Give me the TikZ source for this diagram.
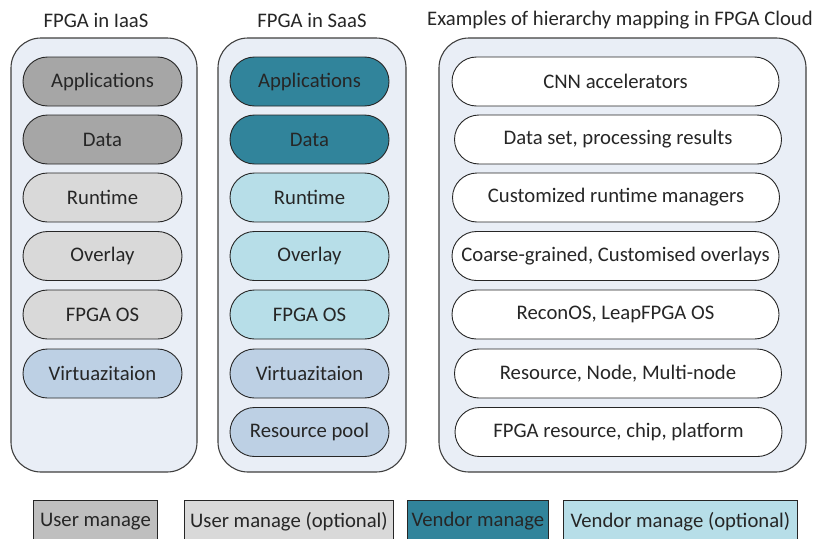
\documentclass[tikz,border=0pt]{standalone}
\usepackage{fontspec}
\setmainfont{Carlito}
\definecolor{contfill}{HTML}{E9EEF6}
\definecolor{contline}{HTML}{3F3F3F}
\definecolor{ugray}{HTML}{A6A6A6}
\definecolor{ugraylg}{HTML}{BFBFBF}
\definecolor{lgray}{HTML}{D9D9D9}
\definecolor{teal}{HTML}{31849B}
\definecolor{lblue}{HTML}{B7DEE8}
\definecolor{vblue}{HTML}{BDD0E4}
\definecolor{txt}{HTML}{262626}
\begin{document}
\begin{tikzpicture}[x=1pt,y=-1pt,
  every node/.style={font=\fontsize{20.7}{24}\selectfont, text=txt},
  container/.style={draw=contline, line width=1.1pt, fill=contfill, rounded corners=30pt},
  pill/.style={draw=black!85, line width=0.9pt, rounded corners=24.5pt, minimum height=49pt, inner sep=0pt},
  pillA/.style={pill, minimum width=159pt},
  pillB/.style={pill, minimum width=327pt, fill=white},
  legend/.style={draw=black!85, line width=0.9pt, minimum height=42pt, inner sep=0pt, anchor=north west}]
\useasboundingbox (0,0) rectangle (813,538);
% titles
\node (t1) at (96,20) {FPGA in IaaS};
\node (t2) at (312,20) {FPGA in SaaS};
\node (t3) at (620,20) {Examples of hierarchy mapping in FPGA Cloud};
% containers
\draw[container] (11,38) rectangle (197,472);
\draw[container] (218,38) rectangle (406,472);
\draw[container] (439,38) rectangle (806,472);
% column 1
\node[pillA, fill=ugray] (a1) at (102.5,81.5) {Applications};
\node[pillA, fill=ugray] (a2) at (102.5,139.5) {Data};
\node[pillA, fill=lgray] (a3) at (102.5,197.5) {Runtime};
\node[pillA, fill=lgray] (a4) at (102.5,256) {Overlay};
\node[pillA, fill=lgray] (a5) at (102.5,314.5) {FPGA OS};
\node[pillA, fill=vblue] (a6) at (102.5,373.5) {Virtuazitaion};
% column 2
\node[pillA, fill=teal] (b1) at (309.5,81.5) {Applications};
\node[pillA, fill=teal] (b2) at (309.5,139.5) {Data};
\node[pillA, fill=lblue] (b3) at (309.5,197.5) {Runtime};
\node[pillA, fill=lblue] (b4) at (309.5,256) {Overlay};
\node[pillA, fill=lblue] (b5) at (309.5,314.5) {FPGA OS};
\node[pillA, fill=vblue] (b6) at (309.5,373.5) {Virtuazitaion};
\node[pillA, fill=vblue] (b7) at (309.5,432) {Resource pool};
% column 3
\node[pillB] (c1) at (615.5,81.5) {CNN accelerators};
\node[pillB] (c2) at (618,139.5) {Data set, processing results};
\node[pillB] (c3) at (616,197.5) {Customized runtime managers};
\node[pillB] (c4) at (615.5,256) {Coarse-grained, Customised overlays};
\node[pillB] (c5) at (615.5,314.5) {ReconOS, LeapFPGA OS};
\node[pillB] (c6) at (618,373.5) {Resource, Node, Multi-node};
\node[pillB] (c7) at (618.5,432) {FPGA resource, chip, platform};
% legend
\node[legend, fill=ugraylg, minimum width=124pt] (l1) at (33,500) {User manage};
\node[legend, fill=lgray, minimum width=209pt] (l2) at (184,500) {User manage (optional)};
\node[legend, fill=teal, minimum width=141pt] (l3) at (407,500) {Vendor manage};
\node[legend, fill=lblue, minimum width=234pt] (l4) at (563,500) {Vendor manage (optional)};
\end{tikzpicture}
\end{document}
